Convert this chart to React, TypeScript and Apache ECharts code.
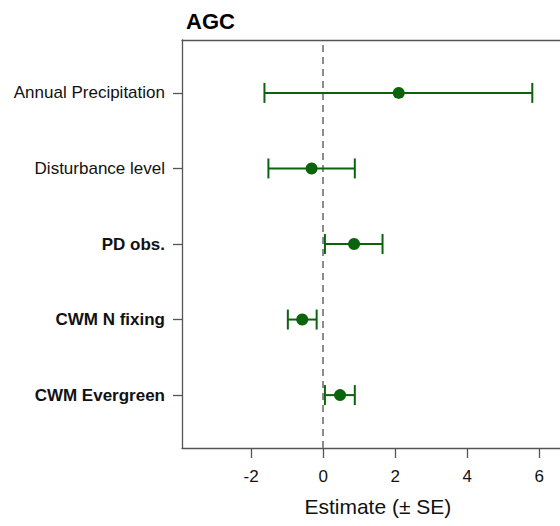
import React, { useEffect, useRef } from "react";
import * as echarts from "echarts";

const categories = ["CWM Evergreen", "CWM N fixing", "PD obs.", "Disturbance level", "Annual Precipitation"];
const boldLabels = [true, true, true, false, false];
const estimates = [0.47, -0.58, 0.86, -0.32, 2.1];
const lower = [0.05, -0.98, 0.05, -1.52, -1.63];
const upper = [0.88, -0.18, 1.65, 0.88, 5.81];
const xTicks = [-2, 0, 2, 4, 6];
const rowPositions = [1, 2, 3, 4, 5];

const GREEN = "#0b640b";
const AXIS = "#555555";
const FONT = "'Liberation Sans', Arial, sans-serif";

export default function App() {
  const ref = useRef<HTMLDivElement>(null);
  useEffect(() => {
    if (!ref.current) return;
    const chart = echarts.init(ref.current, null, { renderer: "svg" });
    const pointData = rowPositions.map((y, i) => [estimates[i], y]);
    const barData = rowPositions.map((y, i) => [lower[i], upper[i], y]);
    const xMin = -3.92;
    const xMax = 6.96;
    chart.setOption({
      animation: false,
      backgroundColor: "#ffffff",
      textStyle: { fontFamily: FONT },
      title: {
        text: "AGC",
        left: 181,
        top: 5,
        textStyle: { fontFamily: FONT, fontSize: 22, fontWeight: "bold", color: "#000" },
      },
      grid: { left: 182, top: 40, width: 391.7, bottom: 78, containLabel: false },
      xAxis: [
        {
          type: "value",
          min: xMin,
          max: xMax,
          position: "bottom",
          splitLine: { show: false },
          axisLine: { show: true, onZero: false, lineStyle: { color: AXIS, width: 1.3 } },
          axisTick: { show: true, length: 10, inside: false, customValues: xTicks, lineStyle: { color: AXIS, width: 1.3 } },
          axisLabel: { customValues: xTicks, margin: 20, fontSize: 17, color: "#111", fontFamily: FONT },
          name: "Estimate (± SE)",
          nameLocation: "middle",
          nameGap: 48,
          nameTextStyle: { fontSize: 21, color: "#111", fontFamily: FONT },
        },
        {
          type: "value",
          min: xMin,
          max: xMax,
          position: "top",
          splitLine: { show: false },
          axisLine: { show: true, onZero: false, lineStyle: { color: AXIS, width: 1.3 } },
          axisTick: { show: false },
          axisLabel: { show: false },
        },
      ],
      yAxis: {
        type: "value",
        min: 0.3,
        max: 5.7,
        splitLine: { show: false },
        axisLine: { show: true, onZero: false, lineStyle: { color: AXIS, width: 1.3 } },
        axisTick: { show: true, length: 9, customValues: rowPositions, lineStyle: { color: AXIS, width: 1.3 } },
        axisLabel: {
          customValues: rowPositions,
          margin: 17,
          fontSize: 17,
          color: "#111",
          fontFamily: FONT,
          formatter: (v: number) => {
            const i = rowPositions.indexOf(Math.round(v));
            if (i < 0) return "";
            return boldLabels[i] ? `{b|${categories[i]}}` : `{n|${categories[i]}}`;
          },
          rich: {
            b: { fontWeight: "bold", fontSize: 17, color: "#111", fontFamily: FONT },
            n: { fontWeight: "normal", fontSize: 17, color: "#111", fontFamily: FONT },
          },
        },
      },
      series: [
        {
          type: "custom",
          xAxisIndex: 0,
          renderItem: (params: any, api: any) => {
            const lo = api.coord([api.value(0), api.value(2)]);
            const hi = api.coord([api.value(1), api.value(2)]);
            const h = 10;
            const style = { stroke: GREEN, lineWidth: 2 };
            return {
              type: "group",
              children: [
                { type: "line", shape: { x1: lo[0], y1: lo[1], x2: hi[0], y2: hi[1] }, style },
                { type: "line", shape: { x1: lo[0], y1: lo[1] - h, x2: lo[0], y2: lo[1] + h }, style },
                { type: "line", shape: { x1: hi[0], y1: hi[1] - h, x2: hi[0], y2: hi[1] + h }, style },
              ],
            };
          },
          encode: { x: [0, 1], y: 2 },
          data: barData,
          z: 3,
        },
        {
          type: "scatter",
          xAxisIndex: 0,
          data: pointData,
          symbol: "circle",
          symbolSize: 12,
          itemStyle: { color: GREEN, opacity: 1 },
          z: 4,
          markLine: {
            silent: true,
            symbol: "none",
            label: { show: false },
            lineStyle: { color: "#8c8c8c", type: [7, 5], width: 2 },
            data: [{ xAxis: 0 }],
            z: 1,
          },
        },
      ],
    });
    return () => chart.dispose();
  }, []);
  return (
    <div style={{ position: "fixed", left: 0, top: 0, width: 560, height: 526, overflow: "hidden", background: "#fff" }}>
      <div ref={ref} style={{ width: 620, height: 526 }} />
    </div>
  );
}
